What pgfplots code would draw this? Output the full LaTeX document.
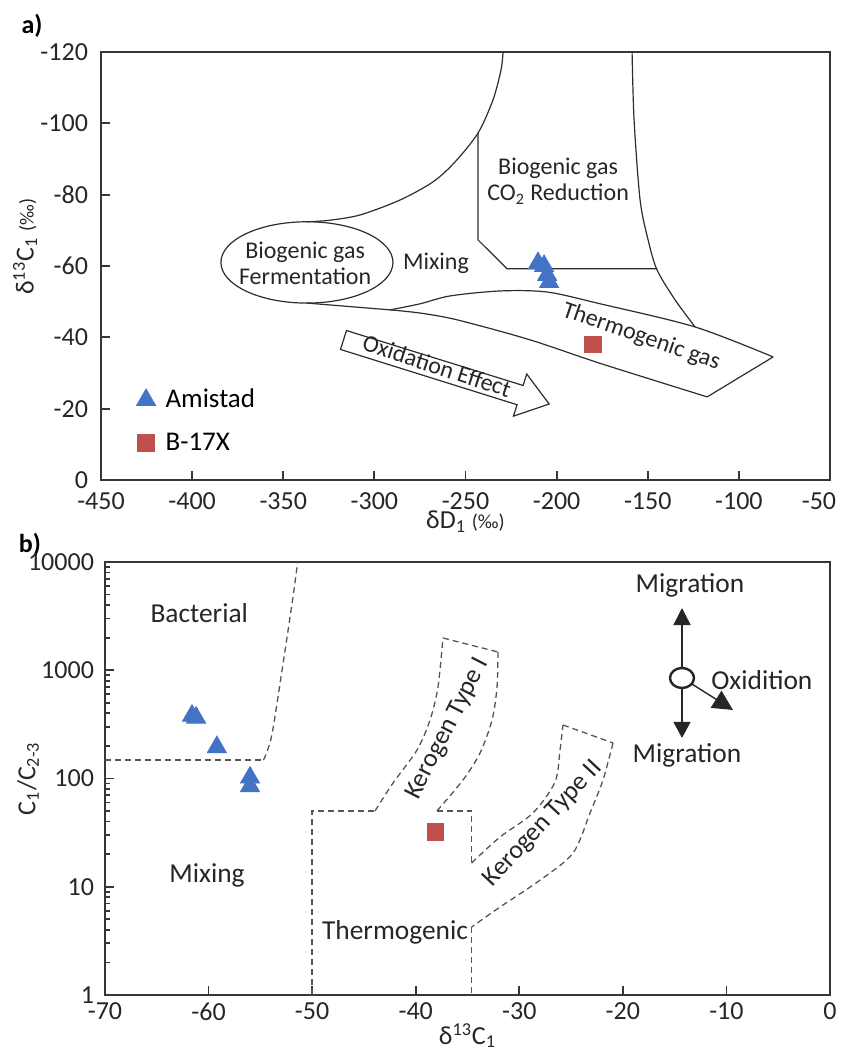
\documentclass[border=0pt]{standalone}
\usepackage{fontspec}
\setmainfont{Carlito}
\usepackage{pgfplots}
\pgfplotsset{compat=1.18}
\usetikzlibrary{arrows.meta}

\definecolor{amblue}{RGB}{68,114,196}
\definecolor{bred}{RGB}{192,80,77}
\definecolor{framegray}{RGB}{55,55,55}
\definecolor{zonegray}{RGB}{45,45,45}
\definecolor{dashgray}{RGB}{85,85,85}

\newcommand{\legfont}{\fontsize{13.5}{16}\selectfont}

\pgfplotsset{
  panel/.style={
    scale only axis,
    tick align=inside,
    xtick pos=left, ytick pos=left,
    axis line style={framegray, line width=1.4pt},
    tick style={framegray, line width=0.9pt},
    major tick length=4.5pt,
    minor tick length=2.5pt,
    ticklabel style={font=\fontsize{13}{15}\selectfont, text=black!85},
    label style={font=\fontsize{13}{15}\selectfont, text=black!85},
    /pgf/number format/assume math mode=true,
    clip=true,
  },
  zone/.style={zonegray, line width=0.6pt, forget plot},
  dzone/.style={dashgray, line width=0.65pt, dash pattern=on 3pt off 2pt, forget plot},
}

\begin{document}
\begin{tikzpicture}
\useasboundingbox (0,0) rectangle (420.5pt,526pt);

\node[font=\bfseries\fontsize{13}{15}\selectfont] at (16pt,513pt) {a)};
\node[font=\bfseries\fontsize{13}{15}\selectfont] at (15pt,253.5pt) {b)};

% ---------------- a) delta D vs delta 13C ----------------
\begin{axis}[panel,
  at={(50.5pt,286pt)}, anchor=south west,
  width=364.5pt, height=214pt,
  xmin=-450, xmax=-50, ymin=-120, ymax=0, y dir=reverse,
  xtick={-450,-400,...,-100}, ytick={-120,-100,...,0},
  extra x ticks={-50}, extra x tick labels={-50},
  extra x tick style={xticklabel style={xshift=-5.5pt}},
  yticklabel style={xshift=-3pt},
  xticklabel style={yshift=-3pt},
  xlabel={δD\textsubscript{1} {\fontsize{10}{12}\selectfont(‰)}},
  ylabel={δ\textsuperscript{13}C\textsubscript{1} {\fontsize{10}{12}\selectfont(‰)}},
  xlabel style={at={(axis description cs:0.5,-0.098)}, anchor=center},
  ylabel style={at={(axis description cs:-0.104,0.545)}, anchor=center},
  legend style={draw=none, fill=none, at={(axis description cs:0.04,0.232)}, anchor=north west,
    row sep=7pt, /tikz/every odd column/.append style={column sep=3pt}},
  legend cell align=left,
]
% upper boundary of the mixing field
\addplot[zone, smooth] coordinates {
  (-337,-72.4) (-325,-72.8) (-307.9,-74.3) (-285.9,-78.5) (-267.8,-83.6)
  (-255.7,-89.2) (-243.1,-97.3) (-234.9,-106.6) (-230.5,-115.0) (-229.4,-120)};
% CO2 reduction field, left and lower edges
\addplot[zone] coordinates {(-243.1,-97.3) (-243.1,-67.3) (-227.2,-59.2) (-144.9,-59.2)};
% CO2 reduction field, right edge
\addplot[zone, smooth] coordinates {
  (-158.6,-120) (-157.5,-100.9) (-154.2,-78.5) (-149.8,-67.3) (-144.9,-58.9)
  (-135,-50.5) (-124,-42.9)};
% thermogenic field
\addplot[zone] coordinates {(-337,-49.6) (-291.4,-47.7)};
\addplot[zone, smooth] coordinates {
  (-291.4,-47.7) (-274.9,-49.4) (-258.5,-51.6) (-231,-53) (-205.2,-52.7)
  (-176.1,-49.4) (-124,-42.9) (-81.2,-34.5)};
\addplot[zone] coordinates {(-81.2,-34.5) (-117.4,-23.3)};
\addplot[zone, smooth] coordinates {
  (-117.4,-23.3) (-176.1,-32.7) (-214.6,-39.3) (-254.6,-44.9) (-274.9,-46.8) (-291.4,-47.7)};
% fermentation field
\draw[zonegray, line width=0.6pt] (axis cs:-337,-61) ellipse [x radius=47.2, y radius=11.4];
% oxidation arrow
\addplot[zone, line join=miter] coordinates {
  (-315.3,-41.9) (-218.4,-26.5) (-216.4,-29.7) (-204.1,-21.3) (-223.7,-17.9)
  (-221.7,-21.1) (-318.6,-36.6) (-315.3,-41.9) (-218.4,-26.5)};

\node[font=\fontsize{12}{13}\selectfont, align=center, text=black!85] at (axis cs:-199.2,-83.8)
  {Biogenic gas\\CO\textsubscript{2} Reduction};
\node[font=\fontsize{12}{13}\selectfont, text=black!85] at (axis cs:-266.2,-60.8) {Mixing};
\node[font=\fontsize{12}{13}\selectfont, align=center, text=black!85] at (axis cs:-338,-60.8)
  {Biogenic gas\\Fermentation};
\node[font=\fontsize{12}{13}\selectfont, rotate=-19, text=black!85] at (axis cs:-153.6,-40.1) {Thermogenic gas};
\node[font=\fontsize{12}{13}\selectfont, rotate=-18, text=black!85] at (axis cs:-265.6,-32.0) {Oxidation Effect};

\addplot[only marks, mark=triangle*, mark size=5.5pt, color=amblue] coordinates {
  (-210.2,-60.8) (-206.9,-60.0) (-205.2,-57.5) (-204.1,-55.5)};
\addlegendentry{\legfont Amistad}
\addplot[only marks, mark=square*, mark size=4.2pt, color=bred] coordinates {(-180,-38)};
\addlegendentry{\legfont B-17X}
\end{axis}

% ---------------- b) C1/C2-3 vs delta 13C ----------------
\begin{axis}[panel,
  at={(52.5pt,28.5pt)}, anchor=south west,
  width=362.5pt, height=216.5pt,
  xmin=-70, xmax=0, ymode=log, ymin=1, ymax=10000,
  xtick={-70,-60,...,0},
  ytick={1,10,100,1000,10000}, yticklabels={1,10,100,1000,10000},
  minor ytick={2,3,4,5,6,7,8,9,20,30,40,50,60,70,80,90,200,300,400,500,600,700,800,900,2000,3000,4000,5000,6000,7000,8000,9000},
  yticklabel style={xshift=-2pt},
  xticklabel style={yshift=-0.5pt},
  xlabel={δ\textsuperscript{13}C\textsubscript{1}},
  ylabel={C\textsubscript{1}/C\textsubscript{2-3}},
  xlabel style={at={(axis description cs:0.5,-0.094)}, anchor=center},
  ylabel style={at={(axis description cs:-0.106,0.5)}, anchor=center},
]
% bacterial field
\addplot[dzone] coordinates {(-70,148) (-54.7,148)};
\addplot[dzone, smooth] coordinates {(-54.7,148) (-54.3,183) (-53.8,281) (-52.8,1167) (-51.85,4750) (-51.4,10000)};
% thermogenic field and kerogen type I band
\addplot[dzone] coordinates {(-50,1) (-50,50.1) (-43.93,50.1)};
\addplot[dzone, smooth] coordinates {(-43.93,50.1) (-42.19,90.9) (-39.88,183) (-38.62,347) (-37.85,700) (-37.37,1986)};
\addplot[dzone] coordinates {(-37.37,1986) (-32.06,1475)};
\addplot[dzone, smooth] coordinates {(-32.06,1475) (-32.15,700) (-32.63,347) (-33.79,172) (-35.43,97) (-37.95,50.1)};
\addplot[dzone] coordinates {(-37.95,50.1) (-34.6,50.1) (-34.6,16.6)};
% kerogen type II band
\addplot[dzone, smooth] coordinates {(-34.6,16.6) (-31.86,28.8) (-28.68,48) (-26.55,92.9) (-26.07,183) (-25.78,312)};
\addplot[dzone] coordinates {(-25.78,312) (-20.95,213)};
\addplot[dzone, smooth] coordinates {(-20.95,213) (-21.92,96.9) (-23.17,48) (-24.81,20.5) (-28.0,11.5) (-31.86,6.5) (-34.6,4.25)};
\addplot[dzone] coordinates {(-34.6,4.25) (-34.6,1)};

\node[font=\fontsize{13.7}{15}\selectfont, text=black!85] at (axis cs:-60.9,3381) {Bacterial};
\node[font=\fontsize{13.7}{15}\selectfont, text=black!85] at (axis cs:-60.15,12.8) {Mixing};
\node[font=\fontsize{13.7}{15}\selectfont, text=black!85] at (axis cs:-42.0,3.82) {Thermogenic};
\node[font=\fontsize{13}{15}\selectfont, rotate=63, text=black!85] at (axis cs:-36.9,287) {Kerogen Type I};
\node[font=\fontsize{13}{15}\selectfont, rotate=47, text=black!85] at (axis cs:-27.7,38) {Kerogen Type II};

% migration / oxidation sketch
\draw[black!85, line width=1.2pt] (axis cs:-14.29,848) ellipse [x radius=6pt, y radius=5pt];
\draw[black!85, line width=0.7pt, -{Triangle[length=8.5pt,width=8.5pt]}] (axis cs:-14.29,1049) -- (axis cs:-14.29,3758);
\draw[black!85, line width=0.7pt, -{Triangle[length=8pt,width=8.5pt]}] (axis cs:-14.29,686) -- (axis cs:-14.29,237);
\draw[black!85, line width=0.7pt, -{Triangle[length=10pt,width=10pt]}] (axis cs:-13.33,746) -- (axis cs:-9.37,429.6);
\node[font=\fontsize{13.7}{15}\selectfont, text=black!85] at (axis cs:-13.52,6128) {Migration};
\node[font=\fontsize{13.7}{15}\selectfont, text=black!85] at (axis cs:-6.57,812) {Oxidition};
\node[font=\fontsize{13.7}{15}\selectfont, text=black!85] at (axis cs:-13.81,165) {Migration};

\addplot[only marks, mark=triangle*, mark size=5.5pt, color=amblue] coordinates {
  (-61.6,380) (-61.2,365) (-59.2,195) (-56,102) (-56,85)};
\addplot[only marks, mark=square*, mark size=4.2pt, color=bred] coordinates {(-38.1,32)};
\end{axis}
\end{tikzpicture}
\end{document}
